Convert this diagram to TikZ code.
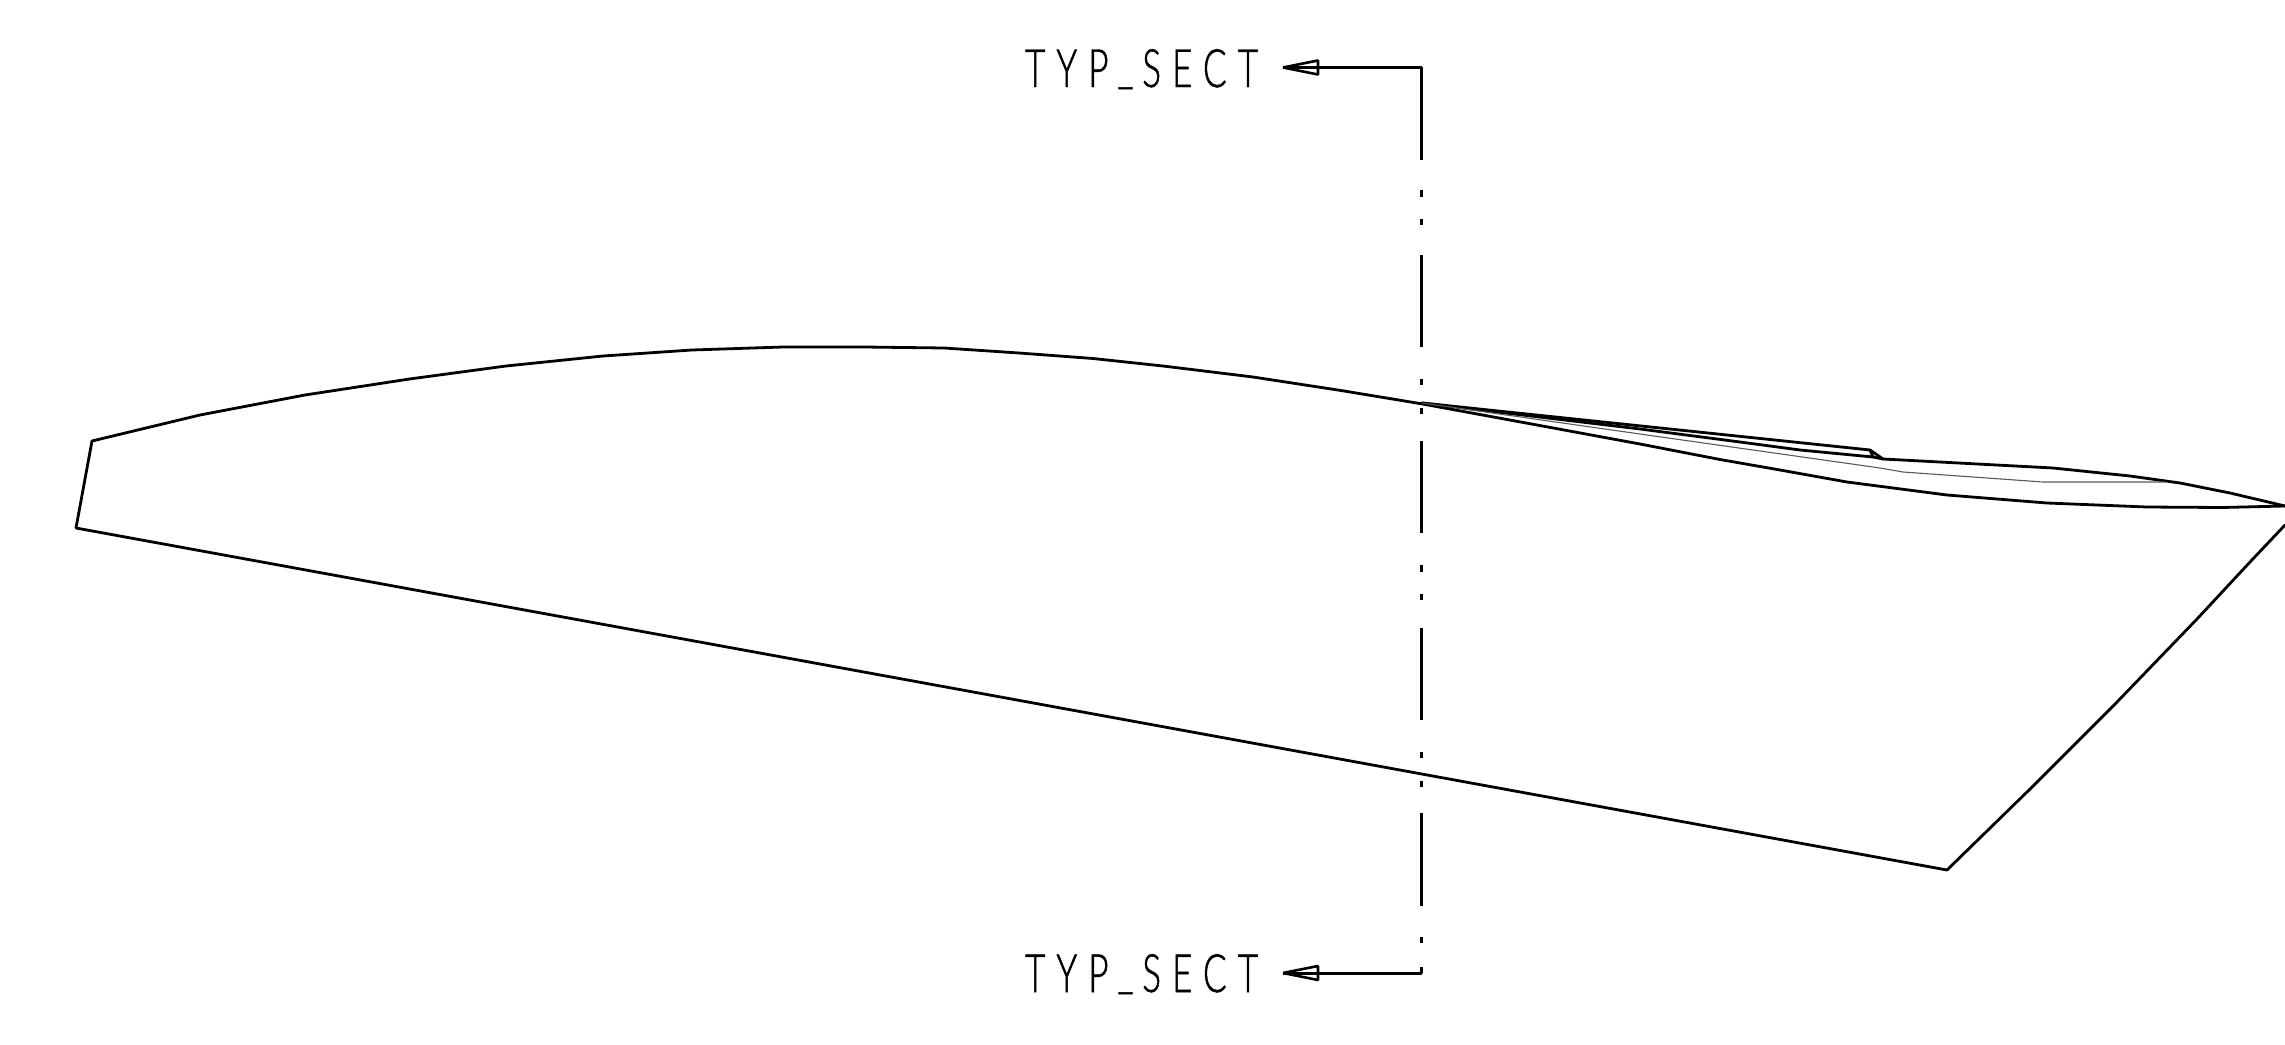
\documentclass[tikz,border=0pt]{standalone}
\usepackage{fontspec}
\newfontfamily\cadfont[FakeStretch=0.66,LetterSpace=21,FakeBold=0.9]{Lato Light}
\tikzset{
  x=1pt,y=-1pt,
  cad/.style={line width=2.8pt,black,line join=round,line cap=round},
  thinline/.style={line width=1.1pt,black!65,line join=round},
  cadlabel/.style={inner sep=0pt,outer sep=0pt,anchor=base west,font=\cadfont\fontsize{53}{53}\selectfont},
  tiparrow/.style={line width=2.6pt,black,line join=bevel,fill=white},
  cl/.style={line width=3pt,black}
}
\newcommand{\cadus}{\kern9pt\raisebox{5pt}{\_}\kern9pt}
\begin{document}
\begin{tikzpicture}
\useasboundingbox (0,0) rectangle (2285,1044);
% outline
\draw[cad] (92,441) -- (200,415) -- (305,395) -- (409.5,379) -- (506,366) -- (603,356) -- (692,350) -- (783,347) -- (864,347) -- (944,348) -- (1019,353) -- (1093,358.5) -- (1163,366) -- (1253,377) -- (1341,390.5) -- (1421,403.7)
 -- (1537,425) -- (1640,444) -- (1720,459.5) -- (1780,470) -- (1847,482) -- (1947,495) -- (2047,503) -- (2147,507) -- (2222,507.5) -- (2285,506);
\draw[cad] (92,441) -- (76,528) -- (1947,870) -- (2028,791) -- (2117,702) -- (2197,619) -- (2250,562) -- (2285,525);
% upper skin
\draw[cad] (1422,403) -- (1870,450) -- (1883,459) -- (2053,468) -- (2130,476) -- (2180,483) -- (2230,493) -- (2285,506);
\draw[cad] (1422,403) -- (1640,429) -- (1740,442) -- (1800,450) -- (1873,457) -- (1883,459);
\draw[cad] (1870,450) -- (1873,457);
\draw[thinline] (1422,403) -- (1640,434) -- (1880,468) -- (1903,472) -- (2043,482) -- (2165,482);
% section line
\coordinate (topcorner) at (1421,67.5);
\coordinate (botcorner) at (1421,973);
\coordinate (toptip) at (1283,67.5);
\coordinate (bottip) at (1283,973);
\draw[cl,line join=round] (1318,67.5) -- (topcorner) -- (1421,160);
\foreach \a/\b in {190/197,219/225,255/347,379/385,408/414,441/533,565/572,594/600,628/720,752/758,781/787,813/906,937/943,967/973}
  \draw[cl] (1421,\a) -- (1421,\b);
\draw[cl,line cap=round] (botcorner) -- (1318,973);
% arrowheads
\draw[tiparrow] (toptip) -- (1318,60.5) -- (1318,74.5) -- cycle;
\draw[cl] (toptip) -- (1318,67.5);
\draw[tiparrow] (bottip) -- (1318,966) -- (1318,980) -- cycle;
\draw[cl] (bottip) -- (1318,973);
% labels
\node[cadlabel] (toplabel) at (1025,87) {TYP\cadus SECT};
\node[cadlabel] (botlabel) at (1025,992) {TYP\cadus SECT};
\end{tikzpicture}
\end{document}
